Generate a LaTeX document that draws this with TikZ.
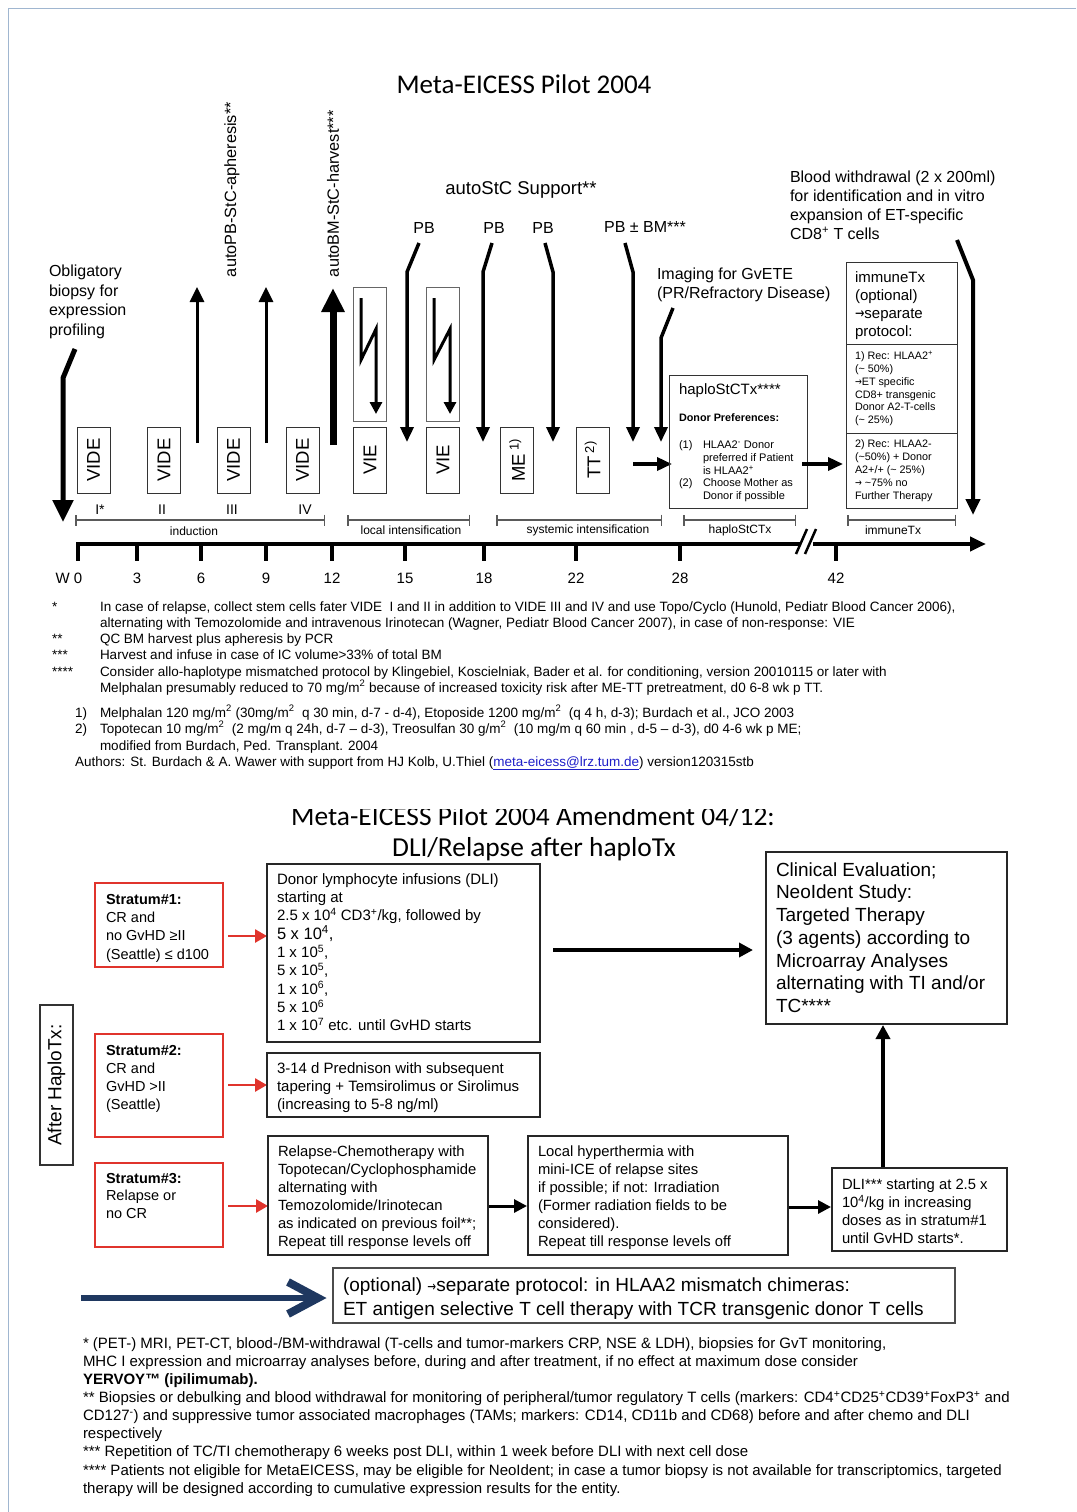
\documentclass[tikz,border=0pt]{standalone}
\usepackage{fontspec}
\setmainfont{Liberation Sans}
\newfontfamily\calfont{Carlito}
\newfontfamily\arrfont{DejaVu Sans}
\usetikzlibrary{arrows.meta}
\definecolor{stratred}{RGB}{224,52,44}
\definecolor{navyarrow}{RGB}{31,56,96}
\definecolor{framecol}{RGB}{160,182,208}
\definecolor{linkblue}{RGB}{30,30,200}
\definecolor{brackgray}{RGB}{90,90,90}
\newcommand\fsz[2]{\fontsize{#1}{#2}\selectfont}
\newcommand\sps[1]{\textsuperscript{#1}}
\newcommand\rarr{{\arrfont\scalebox{0.75}[1]{→}}}

\begin{document}
\begin{tikzpicture}[x=1pt,y=-1pt,
  every node/.style={inner sep=0pt, outer sep=0pt},
  lbl/.style={font=\fsz{16}{19.5}, align=left, anchor=north west},
  rbox/.style={draw=black!80, line width=1pt, rotate=90, minimum width=66pt, minimum height=33pt, font=\fsz{18.5}{20}},
  lbox/.style={draw=black!60, line width=1pt, minimum width=33pt, minimum height=134pt},
  arr/.style={line width=3.5pt, -{Triangle[length=15pt,width=13pt]}},
  thinup/.style={line width=3pt, -{Triangle[length=15pt,width=14pt]}},
  bolt/.style={line width=3pt, -{Triangle[length=12pt,width=12pt]}},
  bracket/.style={draw=brackgray, line width=1.2pt, {Bar[width=11pt,line width=1.5pt]}-{Bar[width=11pt,line width=1.5pt]}},
  brlbl/.style={font=\fsz{12}{14}},
  tick/.style={line width=4pt},
  ticklbl/.style={font=\fsz{15}{18}},
  roman/.style={font=\fsz{14}{16}},
  fn/.style={font=\fsz{13.5}{16}, anchor=base west},
  fbox/.style={draw=black!85, line width=1.2pt},
  sbox/.style={draw=stratred, line width=2.6pt},
  redarr/.style={draw=stratred, line width=2.6pt, -{Triangle[length=12pt,width=13pt]}},
  blkarr/.style={line width=3pt, -{Triangle[length=13pt,width=13pt]}},
  btxt/.style={align=left, anchor=north west, font=\fsz{14.8}{18}}
]
\useasboundingbox (0,0) rectangle (1076,1512);

% page frame
\draw[framecol, line width=1.5pt] (8.5,1512) -- (8.5,8.5) -- (1076,8.5);

% ---------------- upper scheme ----------------
\node[font=\calfont\fsz{27}{32}] (title) at (524,84) {Meta-EICESS Pilot 2004};

\node[rotate=90, anchor=west, font=\fsz{16.3}{19}] (apher) at (232,277) {autoPB-StC-apheresis**};
\node[rotate=90, anchor=west, font=\fsz{16.3}{19}] (harv) at (333,277) {autoBM-StC-harvest***};
\node[font=\fsz{18.5}{22}] (support) at (521,190) {autoStC Support**};

\node[font=\fsz{16}{19}] (pb1) at (424,228) {PB};
\node[font=\fsz{16}{19}] (pb2) at (494,228) {PB};
\node[font=\fsz{16}{19}] (pb3) at (543,228) {PB};
\node[font=\fsz{16}{19}] (pb4) at (645,227) {PB ± BM***};

\node[lbl] (biopsy) at (49,265) {Obligatory\\biopsy for\\expression\\profiling};
\node[lbl, font=\fsz{16}{18.5}] (imaging) at (657,268) {Imaging for GvETE\\(PR/Refractory Disease)};
\node[lbl, font=\fsz{16}{19}] (blood) at (790,171) {Blood withdrawal (2 x 200ml)\\for identification and in vitro\\expansion of ET-specific\\CD8\sps{+} T cells};

% arrow end points
\coordinate (bioS) at (75,349);   \coordinate (bioK) at (63,378);  \coordinate (bioT) at (63,522);
\coordinate (up1S) at (197,443);  \coordinate (up1T) at (197,287);
\coordinate (up2S) at (266,443);  \coordinate (up2T) at (266,287);
\coordinate (up3S) at (333,445);  \coordinate (up3T) at (333,288);
\coordinate (p1S) at (419,243);   \coordinate (p1K) at (407,272);  \coordinate (p1T) at (407,442);
\coordinate (p2S) at (492,243);   \coordinate (p2K) at (483,272);  \coordinate (p2T) at (483,442);
\coordinate (p3S) at (545,243);   \coordinate (p3K) at (553,272);  \coordinate (p3T) at (553,442);
\coordinate (p4S) at (625,243);   \coordinate (p4K) at (633,272);  \coordinate (p4T) at (633,442);
\coordinate (imS) at (673,308);   \coordinate (imK) at (661,338);  \coordinate (imT) at (661,442);
\coordinate (blS) at (957,240);   \coordinate (blK) at (973,280);  \coordinate (blT) at (973,515);

\draw[line width=5pt, -{Triangle[length=22pt,width=20pt]}] (bioS) -- (bioK) -- (bioT);
\draw[thinup] (up1S) -- (up1T);
\draw[thinup] (up2S) -- (up2T);
\draw[line width=7pt, -{Triangle[length=24pt,width=22pt]}] (up3S) -- (up3T);
\draw[arr] (p1S) -- (p1K) -- (p1T);
\draw[arr] (p2S) -- (p2K) -- (p2T);
\draw[arr] (p3S) -- (p3K) -- (p3T);
\draw[arr] (p4S) -- (p4K) -- (p4T);
\draw[arr] (imS) -- (imK) -- (imT);
\draw[line width=4pt, -{Triangle[length=16pt,width=14pt]}] (blS) -- (blK) -- (blT);

% therapy blocks
\node[rbox] (vide1) at (93.5,460) {VIDE};
\node[rbox] (vide2) at (164,460) {VIDE};
\node[rbox] (vide3) at (233.5,460) {VIDE};
\node[rbox] (vide4) at (302.5,460) {VIDE};
\node[rbox] (vie1) at (370,460) {VIE};
\node[rbox] (vie2) at (443,460) {VIE};
\node[rbox] (me) at (517,460) {ME\,\sps{1)}};
\node[rbox] (tt) at (592.5,460) {TT\,\sps{2)}};

% irradiation blocks with lightning arrows
\node[lbox] (bolt1) at (369.5,354) {};
\node[lbox] (bolt2) at (443,354.5) {};
\draw[bolt] (361,298) -- (361,360) -- (376,329) -- (376,414);
\draw[bolt] (434,298) -- (434,360) -- (450,329) -- (450,414);

\node[roman] (c1) at (100,510) {I*};
\node[roman] (c2) at (162,510) {II};
\node[roman] (c3) at (232,510) {III};
\node[roman] (c4) at (305,510) {IV};

% phase brackets
\draw[bracket] (75,520) -- (325,520);
\node[brlbl] (ind) at (194,531) {induction};
\draw[bracket] (347,520) -- (470,520);
\node[brlbl] (loc) at (411,530) {local intensification};
\draw[bracket] (496,520) -- (662,520);
\node[brlbl] (sys) at (588,530) {systemic intensification};
\draw[bracket] (683,520) -- (796,520);
\node[brlbl] (hap) at (740,530) {haploStCTx};
\draw[bracket] (847,520) -- (956,520);
\node[brlbl] (imm) at (893,530) {immuneTx};

% time axis
\draw[line width=4pt] (76,544) -- (801,544);
\draw[line width=4pt, -{Triangle[length=16pt,width=14pt]}] (813,544) -- (986,544);
\draw[line width=2.5pt] (796,554) -- (807,529);
\draw[line width=2.5pt] (805,554) -- (816,529);
\foreach \tx/\tl in {137/3,201/6,266/9,332/12,405/15,484/18,576/22,680/28,836/42}{
  \draw[tick] (\tx,544) -- (\tx,561);
  \node[ticklbl] at (\tx,578) {\tl};
}
\draw[tick] (78,544) -- (78,561);
\node[ticklbl] (w0) at (69,578) {W 0};

% haplo transplant block
\draw[arr] (633,464) -- (672,464);
\node[draw=black!80, line width=1pt, minimum width=138pt, minimum height=133pt] (haplo) at (738,441.5) {};
\node[anchor=north west, font=\fsz{15}{17}] (haploT) at (679,383.5) {haploStCTx****};
\node[anchor=north west, font=\bfseries\fsz{10.8}{12}] (donor) at (679,413.5) {Donor Preferences:};
\node[anchor=north west, font=\fsz{11}{12.7}] (donorL) at (679,440) {%
  \setlength{\tabcolsep}{0pt}\begin{tabular}{@{}p{24pt}@{}l@{}}
  (1) & HLAA2\sps{-} Donor\\
      & preferred if Patient\\
      & is HLAA2\sps{+}\\
  (2) & Choose Mother as\\
      & Donor if possible
  \end{tabular}};

\draw[arr] (802,464) -- (843,464);

% immune therapy block
\draw[draw=black!80, line width=1pt] (846,262) rectangle (957,508);
\draw[draw=black!80, line width=1pt] (846,344) -- (957,344);
\draw[draw=black!80, line width=1pt] (846,433) -- (957,433);
\node[anchor=north west, align=left, font=\fsz{15}{18.2}] (immT) at (855,271.5) {immuneTx\\(optional)\\\rarr separate\\protocol:};
\node[anchor=north west, align=left, font=\fsz{10.8}{12.9}] (immA) at (855,351) {1) Rec: HLAA2\sps{+}\\(\textasciitilde{} 50\%)\\\rarr ET specific\\CD8+ transgenic\\Donor A2-T-cells\\(\textasciitilde{} 25\%)};
\node[anchor=north west, align=left, font=\fsz{10.8}{12.8}] (immB) at (855,440) {2) Rec: HLAA2-\\(\textasciitilde50\%) + Donor\\A2+/+ (\textasciitilde{} 25\%)\\\rarr{} \textasciitilde75\% no\\Further Therapy};

% footnotes of the upper scheme
\node[fn] (f1m) at (52,611) {*};
\node[fn] (f1a) at (100,611) {In case of relapse, collect stem cells fater VIDE\ \ I and II in addition to VIDE III and IV and use Topo/Cyclo (Hunold, Pediatr Blood Cancer 2006),};
\node[fn] (f1b) at (100,627) {alternating with Temozolomide and intravenous Irinotecan (Wagner, Pediatr Blood Cancer 2007), in case of non-response: VIE};
\node[fn] (f2m) at (52,643) {**};
\node[fn] (f2a) at (100,643) {QC BM harvest plus apheresis by PCR};
\node[fn] (f3m) at (52,659) {***};
\node[fn] (f3a) at (100,659) {Harvest and infuse in case of IC volume>33\% of total BM};
\node[fn] (f4m) at (52,676) {****};
\node[fn] (f4a) at (100,676) {Consider allo-haplotype mismatched protocol by Klingebiel, Koscielniak, Bader et al. for conditioning, version 20010115 or later with};
\node[fn] (f4b) at (100,692) {Melphalan presumably reduced to 70 mg/m\sps{2}\ because of increased toxicity risk after ME-TT pretreatment, d0 6-8 wk p TT.};
\node[fn] (n1m) at (75,717) {1)};
\node[fn] (n1a) at (100,717) {Melphalan 120 mg/m\sps{2} (30mg/m\sps{2}\ \ q 30 min, d-7 - d-4), Etoposide 1200 mg/m\sps{2}\ \ (q 4 h, d-3); Burdach et al., JCO 2003};
\node[fn] (n2m) at (75,733) {2)};
\node[fn] (n2a) at (100,733) {Topotecan 10 mg/m\sps{2}\ \ (2 mg/m q 24h, d-7 – d-3), Treosulfan 30 g/m\sps{2}\ \ (10 mg/m q 60 min , d-5 – d-3), d0 4-6 wk p ME;};
\node[fn] (n2b) at (100,750) {modified from Burdach, Ped. Transplant. 2004};
\node[fn] (auth) at (75,766) {Authors: St. Burdach \& A. Wawer with support from HJ Kolb, U.Thiel (\textcolor{linkblue}{\underline{meta-eicess@lrz.tum.de}}) version120315stb};

% ---------------- lower scheme ----------------
\begin{scope}
  \clip (200,809) rectangle (900,840);
  \node[font=\calfont\fsz{27.4}{31}] (title2a) at (533,817) {Meta-EICESS Pilot 2004 Amendment 04/12:};
\end{scope}
\node[font=\calfont\fsz{27.4}{31}] (title2b) at (534,849) {DLI/Relapse after haploTx};

\node[draw=black!80, line width=1.2pt, rotate=90, minimum width=160pt, minimum height=33pt, font=\fsz{19}{22}] (after) at (56.5,1085) {After HaploTx:};

% strata
\draw[sbox] (95,883) rectangle (223,967);
\node[btxt, font=\fsz{14.5}{18.3}] (s1) at (106,894) {\textbf{Stratum\#1:}\\CR and\\no GvHD ≥II\\(Seattle) ≤ d100};
\draw[sbox] (95,1034) rectangle (223,1137);
\node[btxt, font=\fsz{14.5}{18}] (s2) at (106,1045) {\textbf{Stratum\#2:}\\CR and\\GvHD >II\\(Seattle)};
\draw[sbox] (95,1163) rectangle (223,1247);
\node[btxt, font=\fsz{14.5}{17.7}] (s3) at (106,1173) {\textbf{Stratum\#3:}\\Relapse or\\no CR};

\draw[redarr] (228,936) -- (267,936);
\draw[redarr] (228,1085) -- (267,1085);
\draw[redarr] (228,1206) -- (268,1206);

% therapy boxes
\draw[fbox] (267,864) rectangle (540,1042);
\node[btxt, font=\fsz{15}{18.3}] (dli) at (277,873.5) {Donor lymphocyte infusions (DLI)\\starting at\\2.5 x 10\sps{4} CD3\sps{+}/kg, followed by\\{\fsz{16.5}{18.3}5 x 10\sps{4},}\\1 x 10\sps{5},\\5 x 10\sps{5},\\1 x 10\sps{6},\\5 x 10\sps{6}\\1 x 10\sps{7} etc. until GvHD starts};

\draw[fbox] (267,1053) rectangle (540,1117);
\node[btxt, font=\fsz{15}{18}] (pred) at (277,1062.5) {3-14 d Prednison with subsequent\\tapering + Temsirolimus or Sirolimus\\(increasing to 5-8 ng/ml)};

\draw[fbox] (268,1136) rectangle (488,1255);
\node[btxt] (relapse) at (278,1145.5) {Relapse-Chemotherapy with\\Topotecan/Cyclophosphamide\\alternating with\\Temozolomide/Irinotecan\\as indicated on previous foil**;\\Repeat till response levels off};

\draw[blkarr] (489,1206) -- (527,1206);

\draw[fbox] (528,1136) rectangle (788,1255);
\node[btxt] (hyper) at (538,1145.5) {Local hyperthermia with\\mini-ICE of relapse sites\\if possible; if not: Irradiation\\(Former radiation fields to be\\considered).\\Repeat till response levels off};

\draw[blkarr] (789,1207) -- (831,1207);

\draw[fbox] (832,1168) rectangle (1007,1251);
\node[btxt] (dli2) at (842,1178.5) {DLI*** starting at 2.5 x\\10\sps{4}/kg in increasing\\doses as in stratum\#1\\until GvHD starts*.};

\draw[fbox] (766,852) rectangle (1007,1024);
\node[btxt, font=\fsz{19}{22.7}] (clin) at (776,862.5) {Clinical Evaluation;\\NeoIdent Study:\\Targeted Therapy\\(3 agents) according to\\Microarray Analyses\\alternating with TI and/or\\TC****};

\draw[line width=3.5pt, -{Triangle[length=14pt,width=14pt]}] (883,1167) -- (883,1025);
\draw[line width=4pt, -{Triangle[length=14pt,width=14pt]}] (553,950) -- (753,950);

% optional protocol
\draw[draw=black!70, line width=1.5pt] (333,1268) rectangle (955,1323);
\node[btxt, font=\fsz{19}{23.5}] (opt) at (343,1278) {(optional) {\fsz{14}{14}\rarr}separate protocol: in HLAA2 mismatch chimeras:\\ET antigen selective T cell therapy with TCR transgenic donor T cells};
\draw[navyarrow, line width=6pt] (81,1298) -- (314,1298);
\draw[navyarrow, line width=8pt, line join=miter] (288,1282) -- (318,1298) -- (288,1314);

% footnotes of the lower scheme
\node[anchor=north west, align=left, font=\fsz{15}{18.1}] (foot) at (83,1337.5) {%
* (PET-) MRI, PET-CT, blood-/BM-withdrawal (T-cells and tumor-markers CRP, NSE \& LDH), biopsies for GvT monitoring,\\
MHC I expression and microarray analyses before, during and after treatment, if no effect at maximum dose consider\\
\textbf{YERVOY™ (ipilimumab).}\\
** Biopsies or debulking and blood withdrawal for monitoring of peripheral/tumor regulatory T cells (markers: CD4\sps{+}CD25\sps{+}CD39\sps{+}FoxP3\sps{+} and\\
CD127\sps{-}) and suppressive tumor associated macrophages (TAMs; markers: CD14, CD11b and CD68) before and after chemo and DLI\\
respectively\\
*** Repetition of TC/TI chemotherapy 6 weeks post DLI, within 1 week before DLI with next cell dose\\
**** Patients not eligible for MetaEICESS, may be eligible for NeoIdent; in case a tumor biopsy is not available for transcriptomics, targeted\\
therapy will be designed according to cumulative expression results for the entity.};

\end{tikzpicture}
\end{document}
